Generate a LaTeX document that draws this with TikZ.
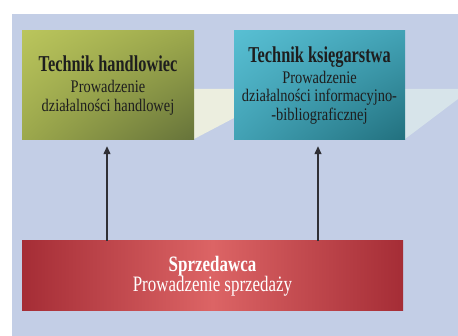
\documentclass[tikz,border=0pt]{standalone}
\usepackage{fontspec}
\usetikzlibrary{arrows.meta,shadings}
\setmainfont{Liberation Serif}
\newfontfamily\ttlfont[FakeStretch=0.72]{Liberation Serif}
\newfontfamily\subfont[FakeStretch=0.815]{Liberation Serif}
\newfontfamily\redfont[FakeStretch=0.77]{Liberation Serif}
\definecolor{panel}{HTML}{C3CEE6}
\definecolor{cream}{HTML}{ECEEDF}
\definecolor{paleblue}{HTML}{D7E4EA}
\definecolor{gTL}{HTML}{BAC55C}
\definecolor{gM}{HTML}{9CA84C}
\definecolor{gBR}{HTML}{66733A}
\definecolor{tTL}{HTML}{58BFD3}
\definecolor{tM}{HTML}{42A2B5}
\definecolor{tBR}{HTML}{22707E}
\definecolor{rEdge}{HTML}{A52D36}
\definecolor{rMid}{HTML}{DC6465}
\definecolor{txt}{HTML}{1E1E1E}
\definecolor{arrowc}{HTML}{2F2F35}
\tikzset{
  box/.style={inner sep=0pt, align=center, text=txt, font=\subfont\fontsize{17.7}{18.5}\selectfont},
  greenbox/.style={box, minimum width=172pt, minimum height=109pt,
    upper left=gTL, upper right=gM, lower left=gM, lower right=gBR},
  tealbox/.style={box, minimum width=171pt, minimum height=109pt,
    upper left=tTL, upper right=tM, lower left=tM, lower right=tBR},
  redbox/.style={box, text=white, minimum width=381pt, minimum height=70pt,
    font=\redfont\fontsize{22}{20}\selectfont,
    left color=rEdge, right color=rEdge, middle color=rMid},
  arr/.style={draw=arrowc, line width=1.3pt, -{Triangle[length=8pt,width=7pt]}, shorten >=6pt},
}
\newcommand{\ttl}[1]{{\ttlfont\bfseries\fontsize{22.7}{24}\selectfont #1}}
\begin{document}
\begin{tikzpicture}[x=1pt,y=-1pt]
\useasboundingbox (0,0) rectangle (458,336);
\fill[white] (0,0) rectangle (458,336);
\fill[panel] (12,14) rectangle (458,336);
\fill[cream] (194,89) -- (234,89) -- (234,118) -- (194,139) -- cycle;
\fill[paleblue] (405,89) -- (458,89) -- (458,99) -- (405,139) -- cycle;
\node[greenbox] (green) at (108,85.5) {\ttl{Technik handlowiec}\\[2.2pt]
  Prowadzenie\\
  działalności handlowej};
\node[tealbox] (teal) at (319.5,85.5) {\ttl{Technik księgarstwa}\\[2pt]
  Prowadzenie\\
  działalności informacyjno-\\
  -bibliograficznej};
\node[redbox] (red) at (212.5,276) {{\bfseries Sprzedawca}\\
  Prowadzenie sprzedaży};
\draw[arr] ([xshift=-1pt]green.south |- red.north) -- ([xshift=-1pt]green.south);
\draw[arr] ([xshift=-1.5pt]teal.south |- red.north) -- ([xshift=-1.5pt]teal.south);
\end{tikzpicture}
\end{document}
